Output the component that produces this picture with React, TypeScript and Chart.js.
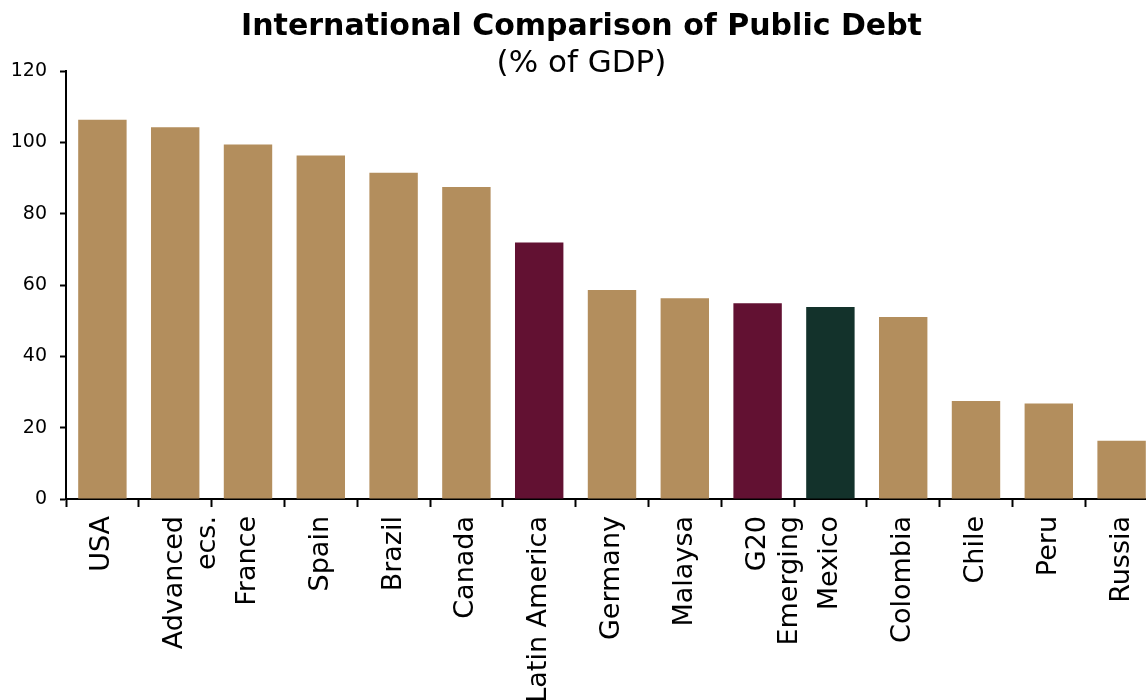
import React, { useEffect, useRef } from "react";
import { Chart, registerables } from "chart.js";

Chart.register(...registerables);

const categories: (string | string[])[] = [
  "USA",
  ["Advanced", "ecs."],
  "France",
  "Spain",
  "Brazil",
  "Canada",
  "Latin America",
  "Germany",
  "Malaysa",
  ["G20", "Emerging"],
  "Mexico",
  "Colombia",
  "Chile",
  "Peru",
  "Russia",
];

const debtValues: number[] = [106.3, 104.2, 99.4, 96.3, 91.5, 87.5, 71.9, 58.6, 56.3, 54.9, 53.8, 51.0, 27.5, 26.8, 16.3];

const TAN = "#B38E5D";
const WINE = "#621132";
const GREEN = "#13322B";
const barColors: string[] = [TAN, TAN, TAN, TAN, TAN, TAN, WINE, TAN, TAN, WINE, GREEN, TAN, TAN, TAN, TAN];

const yTicks: number[] = [0, 20, 40, 60, 80, 100, 120];

const FONT = "'DejaVu Sans', sans-serif";

export default function App() {
  const ref = useRef<HTMLCanvasElement | null>(null);

  useEffect(() => {
    document.body.style.overflow = "hidden";
    const canvas = ref.current;
    if (!canvas) return;
    const chart = new Chart(canvas, {
      type: "bar",
      data: {
        labels: categories,
        datasets: [
          {
            data: debtValues,
            backgroundColor: barColors,
            borderWidth: 0,
            barPercentage: 0.665,
            categoryPercentage: 1,
          },
        ],
      },
      options: {
        responsive: false,
        animation: false,
        layout: { padding: 0 },
        plugins: {
          legend: { display: false },
          tooltip: { enabled: false },
          title: {
            display: true,
            text: "International Comparison of Public Debt",
            color: "#000",
            font: { family: FONT, size: 30, weight: "bold", lineHeight: 1.2 },
            padding: { top: 9, bottom: 0 },
          },
          subtitle: {
            display: true,
            text: "(% of GDP)",
            color: "#000",
            font: { family: FONT, size: 31, weight: "normal", lineHeight: 1.2 },
            padding: { top: 0.4, bottom: -11.6 },
          },
        },
        scales: {
          x: {
            afterFit: (s: any) => {
              s.height = 201;
            },
            border: { display: true, color: "#000", width: 2 },
            grid: {
              display: true,
              drawOnChartArea: false,
              drawTicks: true,
              tickLength: 8,
              tickWidth: 2,
              tickColor: "#000",
              offset: true,
            },
            ticks: {
              color: "#000",
              font: { family: FONT, size: 27 },
              minRotation: 90,
              maxRotation: 90,
              autoSkip: false,
              padding: 9,
            },
          },
          y: {
            min: 0,
            max: 120,
            afterFit: (s: any) => {
              s.width = 66;
            },
            afterBuildTicks: (s: any) => {
              s.ticks = yTicks.map((v) => ({ value: v }));
            },
            border: { display: true, color: "#000", width: 2 },
            grid: {
              display: true,
              drawOnChartArea: false,
              drawTicks: true,
              tickLength: 6,
              tickWidth: 2,
              tickColor: "#000",
            },
            ticks: {
              color: "#000",
              font: { family: FONT, size: 19 },
              padding: 13,
            },
          },
        },
      },
    });
    return () => chart.destroy();
  }, []);

  return (
    <canvas
      ref={ref}
      width={1163}
      height={700}
      style={{ position: "absolute", left: 0, top: 0, width: 1163, height: 700 }}
    />
  );
}
